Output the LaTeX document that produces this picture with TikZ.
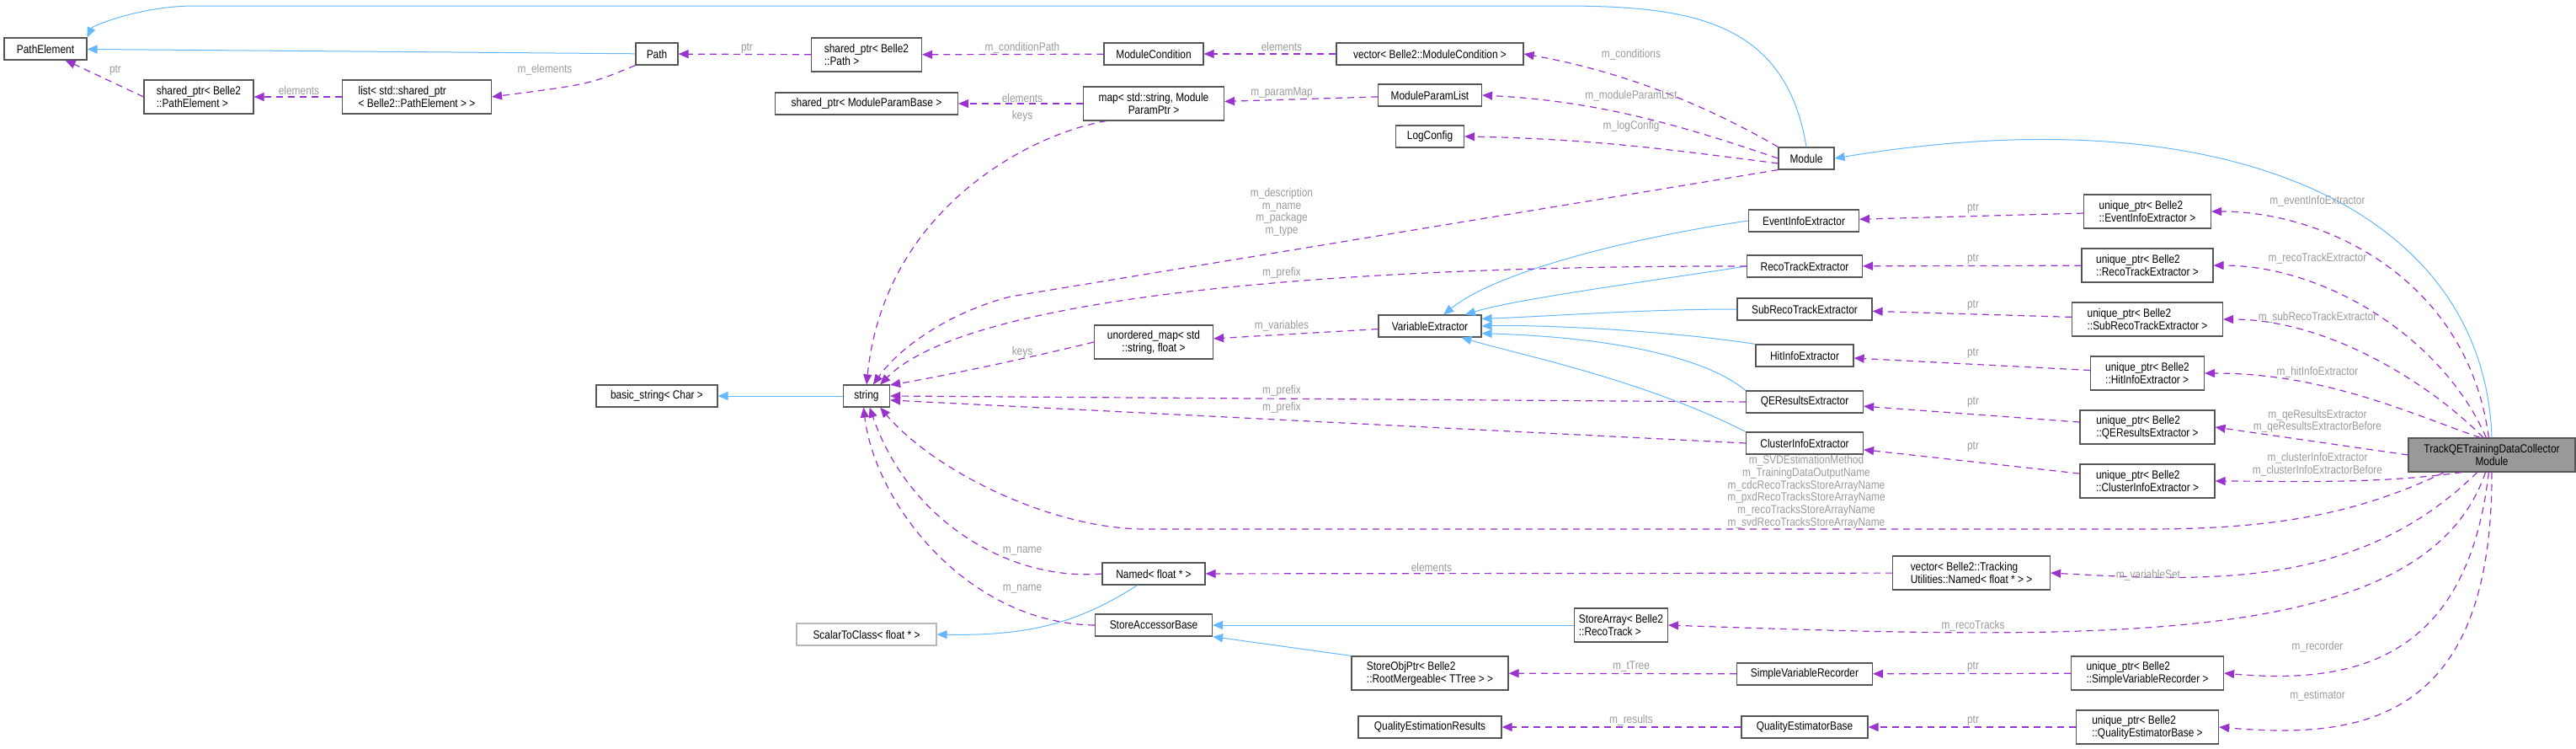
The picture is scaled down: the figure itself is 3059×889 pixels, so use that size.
\documentclass[tikz,border=0pt]{standalone}
\usepackage{fontspec}
\setmainfont{Liberation Sans}[FakeStretch=0.85]
\usetikzlibrary{arrows.meta}
\definecolor{inhblue}{HTML}{63B8FF}
\definecolor{usepurple}{HTML}{9A32CD}
\definecolor{lblgray}{HTML}{9A9A9A}
\definecolor{boxline}{HTML}{555555}
\definecolor{mainfill}{HTML}{999999}
\tikzset{
	box/.style={draw=boxline, fill=white, line width=0.6pt, inner sep=1pt, minimum height=13pt, align=center, font=\fontsize{7}{7.4}\selectfont},
	box2/.style={box, minimum height=20pt, align=left},
	inh/.style={draw=inhblue, line width=0.5pt, -{Triangle[length=6pt,width=5pt]}},
	use/.style={draw=usepurple, line width=0.6pt, dash pattern=on 4pt off 3pt, -{Triangle[length=6pt,width=5pt]}},
	lbl/.style={text=lblgray, inner sep=0pt, align=center, font=\fontsize{7}{7.35}\selectfont}
}
\begin{document}
\begin{tikzpicture}[x=0.5pt,y=-0.5pt]
	\useasboundingbox (0,0) rectangle (3059,889);

	% classes
	\node[box, minimum width=49pt] (pe) at (54,58) {PathElement};
	\node[box, minimum width=25pt] (path) at (780,64) {Path};
	\node[box2, minimum width=65pt] (spe) at (236,115) {shared\_ptr< Belle2\\::PathElement >};
	\node[box2, minimum width=88.5pt] (lst) at (495,115) {list< std::shared\_ptr\\< Belle2::PathElement > >};
	\node[box2, minimum width=65.5pt] (spath) at (1029,65) {shared\_ptr< Belle2\\::Path >};
	\node[box, minimum width=108.5pt] (smpb) at (1029,123) {shared\_ptr< ModuleParamBase >};
	\node[box, minimum width=59pt] (mc) at (1370,64) {ModuleCondition};
	\node[box, minimum width=111pt] (vmc) at (1698,64) {vector< Belle2::ModuleCondition >};
	\node[box2, minimum width=83.5pt, align=center] (map) at (1370,123) {map< std::string, Module\\ParamPtr >};
	\node[box, minimum width=61.5pt] (mpl) at (1698,113) {ModuleParamList};
	\node[box, minimum width=40.5pt] (lc) at (1698,162) {LogConfig};
	\node[box, minimum width=33pt] (mod) at (2145,188) {Module};
	\node[box, minimum width=61pt] (ve) at (1698,387) {VariableExtractor};
	\node[box2, minimum width=70.5pt, align=center] (umap) at (1370,406) {unordered\_map< std\\::string, float >};
	\node[box, minimum width=65.5pt] (eie) at (2142,262) {EventInfoExtractor};
	\node[box, minimum width=68.5pt] (rte) at (2143,316) {RecoTrackExtractor};
	\node[box, minimum width=80pt] (srte) at (2143,367) {SubRecoTrackExtractor};
	\node[box, minimum width=58pt] (hie) at (2143,422) {HitInfoExtractor};
	\node[box, minimum width=69.5pt] (qere) at (2143,477) {QEResultsExtractor};
	\node[box, minimum width=69.5pt] (cie) at (2143,526) {ClusterInfoExtractor};
	\node[box2, minimum width=75.5pt] (uei) at (2550,251) {unique\_ptr< Belle2\\::EventInfoExtractor >};
	\node[box2, minimum width=78pt] (urt) at (2550,315) {unique\_ptr< Belle2\\::RecoTrackExtractor >};
	\node[box2, minimum width=89.5pt] (usrt) at (2550,379) {unique\_ptr< Belle2\\::SubRecoTrackExtractor >};
	\node[box2, minimum width=67.5pt] (uhi) at (2550,443) {unique\_ptr< Belle2\\::HitInfoExtractor >};
	\node[box2, minimum width=80pt] (uqer) at (2550,507) {unique\_ptr< Belle2\\::QEResultsExtractor >};
	\node[box2, minimum width=80pt] (uci) at (2550,571) {unique\_ptr< Belle2\\::ClusterInfoExtractor >};
	\node[box2, minimum width=99pt, align=center, fill=mainfill] (tq) at (2959,540) {TrackQETrainingDataCollector\\Module};
	\node[box, minimum width=72pt] (bs) at (780,470) {basic\_string< Char >};
	\node[box, minimum width=27.5pt] (str) at (1029,470) {string};
	\node[box, minimum width=83pt, draw=lblgray!70] (stc) at (1029,753) {ScalarToClass< float * >};
	\node[box, minimum width=61pt] (nam) at (1370,681) {Named< float * >};
	\node[box, minimum width=69.5pt] (sab) at (1370,742) {StoreAccessorBase};
	\node[box2, minimum width=55.5pt] (sa) at (1925,742) {StoreArray< Belle2\\::RecoTrack >};
	\node[box2, minimum width=93pt] (sop) at (1698,799) {StoreObjPtr< Belle2\\::RootMergeable< TTree > >};
	\node[box, minimum width=85pt] (qer) at (1698,863) {QualityEstimationResults};
	\node[box2, minimum width=93.5pt] (vn) at (2341,680) {vector< Belle2::Tracking\\Utilities::Named< float * > >};
	\node[box, minimum width=80.5pt] (svr) at (2143,800) {SimpleVariableRecorder};
	\node[box, minimum width=75pt] (qeb) at (2143,863) {QualityEstimatorBase};
	\node[box2, minimum width=90.5pt] (usvr) at (2550,799) {unique\_ptr< Belle2\\::SimpleVariableRecorder >};
	\node[box2, minimum width=84.5pt] (uqeb) at (2550,863) {unique\_ptr< Belle2\\::QualityEstimatorBase >};

	% inheritance
	\draw[inh] (mod.north) .. controls (2120,20) and (2000,7) .. (1850,7) -- (230,7) .. controls (170,7) and (110,30) .. (pe.north east);
	\draw[inh] (path) -- (pe);
	\draw[inh] (tq.north) .. controls (2950,250) and (2650,110) .. (mod.east);
	\draw[inh] (str) -- (bs);
	\draw[inh] (eie.west) .. controls (1950,280) and (1780,320) .. (ve.40);
	\draw[inh] (rte.west) .. controls (1950,335) and (1800,355) .. (ve.18);
	\draw[inh] (srte.west) .. controls (1950,367) and (1850,375) .. (ve.8);
	\draw[inh] (hie.north west) .. controls (2000,395) and (1850,385) .. (ve.east);
	\draw[inh] (qere.north west) .. controls (2020,420) and (1900,400) .. (ve.-8);
	\draw[inh] (cie.north west) .. controls (1950,450) and (1800,420) .. (ve.-20);
	\draw[inh] (nam.-145) .. controls (1280,740) and (1220,755) .. (stc.east);
	\draw[inh] (sa) -- (sab);
	\draw[inh] (sop.north west) -- (sab.south east);

	% usage
	\draw[use] (spe.west) .. controls (130,95) .. (pe.-30);
	\draw[use] (lst) -- (spe);
	\draw[use] (path.south west) .. controls (700,100) .. (lst.east);
	\draw[use] (spath) -- (path);
	\draw[use] (mc) -- (spath);
	\draw[use] (vmc) -- (mc);
	\draw[use] (mod.north west) .. controls (2000,110) and (1900,80) .. (vmc.east);
	\draw[use] (mod.west) .. controls (2000,150) and (1900,120) .. (mpl.east);
	\draw[use] (mod.-170) .. controls (2000,180) and (1900,165) .. (lc.east);
	\draw[use] (map) -- (smpb);
	\draw[use] (mpl) -- (map);
	\draw[use] (map.-160) .. controls (1220,160) and (1050,250) .. (str.north);
	\draw[use] (mod.south west) -- (1200,352) .. controls (1130,370) and (1070,410) .. (str.60);
	\draw[use] (rte.west) .. controls (1600,315) and (1150,350) .. (str.40);
	\draw[use] (umap.west) .. controls (1200,430) and (1100,450) .. (str.25);
	\draw[use] (ve) -- (umap);
	\draw[use] (qere.west) -- (str.east);
	\draw[use] (cie.west) -- (str.-10);
	\draw[use] (tq.-160) .. controls (2800,610) and (2700,628) .. (2550,628) -- (1360,628) .. controls (1250,628) and (1110,560) .. (str.-40);
	\draw[use] (nam.west) .. controls (1200,690) and (1080,620) .. (str.-75);
	\draw[use] (sab.west) .. controls (1150,740) and (1040,600) .. (str.-105);
	\draw[use] (vn) -- (nam);
	\draw[use] (svr) -- (sop);
	\draw[use] (qeb) -- (qer);
	\draw[use] (uei) -- (eie);
	\draw[use] (urt) -- (rte);
	\draw[use] (usrt) -- (srte);
	\draw[use] (uhi) -- (hie);
	\draw[use] (uqer) -- (qere);
	\draw[use] (uci) -- (cie);
	\draw[use] (usvr) -- (svr);
	\draw[use] (uqeb) -- (qeb);
	\draw[use] (tq.100) .. controls (2930,330) and (2760,251) .. (uei.east);
	\draw[use] (tq.108) .. controls (2900,400) and (2760,315) .. (urt.east);
	\draw[use] (tq.116) .. controls (2880,450) and (2760,379) .. (usrt.east);
	\draw[use] (tq.124) .. controls (2860,490) and (2760,443) .. (uhi.east);
	\draw[use] (tq.west) -- (uqer.east);
	\draw[use] (tq.-150) .. controls (2820,575) and (2720,571) .. (uci.east);
	\draw[use] (tq.-130) .. controls (2800,700) and (2620,690) .. (vn.east);
	\draw[use] (tq.-110) .. controls (2880,770) and (2500,760) .. (sa.east);
	\draw[use] (tq.-100) .. controls (2930,780) and (2800,813) .. (usvr.east);
	\draw[use] (tq.-90) .. controls (2960,860) and (2800,877) .. (uqeb.east);

	% edge labels
	\node[lbl] (l1) at (137,83) {ptr};
	\node[lbl] (l2) at (355,107) {elements};
	\node[lbl] (l3) at (647,83) {m\_elements};
	\node[lbl] (l4) at (887,57) {ptr};
	\node[lbl] (l5) at (1214,57) {m\_conditionPath};
	\node[lbl] (l6) at (1522,55) {elements};
	\node[lbl] (l7) at (1937,65) {m\_conditions};
	\node[lbl] (l8) at (1214,116) {elements};
	\node[lbl] (l9) at (1214,138) {keys};
	\node[lbl] (l10) at (1522,110) {m\_paramMap};
	\node[lbl] (l11) at (1937,114) {m\_moduleParamList};
	\node[lbl] (l12) at (1937,150) {m\_logConfig};
	\node[lbl] (l13) at (1522,252) {m\_description\\m\_name\\m\_package\\m\_type};
	\node[lbl] (l14) at (1522,324) {m\_prefix};
	\node[lbl] (l15) at (1522,387) {m\_variables};
	\node[lbl] (l16) at (1214,418) {keys};
	\node[lbl] (l17) at (1522,464) {m\_prefix};
	\node[lbl] (l18) at (1522,484) {m\_prefix};
	\node[lbl] (l19) at (2145,584) {m\_SVDEstimationMethod\\m\_TrainingDataOutputName\\m\_cdcRecoTracksStoreArrayName\\m\_pxdRecoTracksStoreArrayName\\m\_recoTracksStoreArrayName\\m\_svdRecoTracksStoreArrayName};
	\node[lbl] (l20) at (1214,654) {m\_name};
	\node[lbl] (l21) at (1214,699) {m\_name};
	\node[lbl] (l22) at (1700,673) {elements};
	\node[lbl] (l23) at (2343,247) {ptr};
	\node[lbl] (l24) at (2343,307) {ptr};
	\node[lbl] (l25) at (2343,362) {ptr};
	\node[lbl] (l26) at (2343,419) {ptr};
	\node[lbl] (l27) at (2343,477) {ptr};
	\node[lbl] (l28) at (2343,530) {ptr};
	\node[lbl] (l29) at (2752,239) {m\_eventInfoExtractor};
	\node[lbl] (l30) at (2752,307) {m\_recoTrackExtractor};
	\node[lbl] (l31) at (2752,377) {m\_subRecoTrackExtractor};
	\node[lbl] (l32) at (2752,442) {m\_hitInfoExtractor};
	\node[lbl] (l33) at (2752,500) {m\_qeResultsExtractor\\m\_qeResultsExtractorBefore};
	\node[lbl] (l34) at (2752,551) {m\_clusterInfoExtractor\\m\_clusterInfoExtractorBefore};
	\node[lbl] (l35) at (2551,683) {m\_variableSet};
	\node[lbl] (l36) at (2343,743) {m\_recoTracks};
	\node[lbl] (l37) at (2752,768) {m\_recorder};
	\node[lbl] (l38) at (2752,826) {m\_estimator};
	\node[lbl] (l39) at (2343,791) {ptr};
	\node[lbl] (l40) at (2343,855) {ptr};
	\node[lbl] (l41) at (1937,791) {m\_tTree};
	\node[lbl] (l42) at (1937,855) {m\_results};
\end{tikzpicture}
\end{document}
